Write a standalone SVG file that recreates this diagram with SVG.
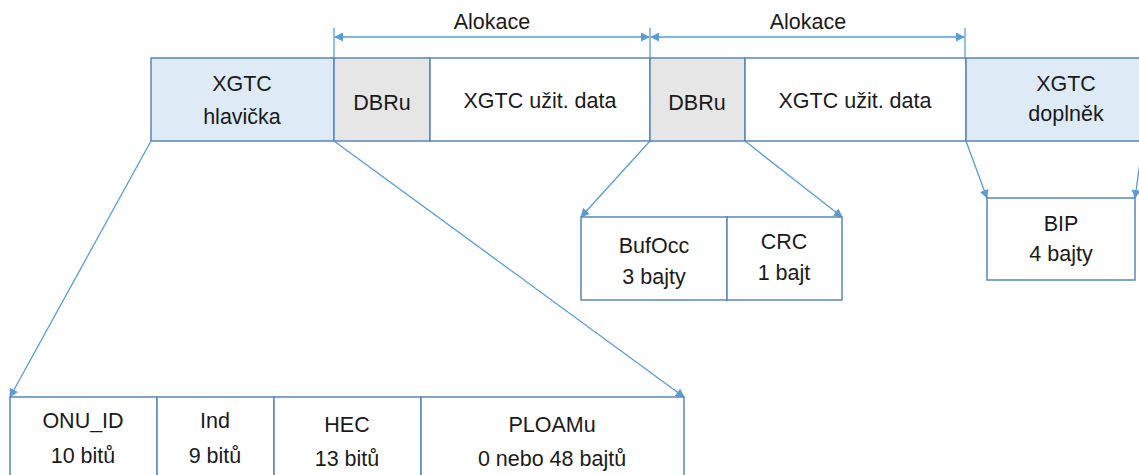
<svg xmlns="http://www.w3.org/2000/svg" width="1139" height="475" viewBox="0 0 1139 475">
<style>
.t{font-family:"Liberation Sans",Arial,sans-serif;font-size:21.5px;fill:#1a1a1a;text-anchor:middle}
.b{stroke:#5a87b8;stroke-width:1.5}
.w{fill:#ffffff}
.g{fill:#e7e6e6}
.l{fill:#deeaf6}
.c{stroke:#5b9bd5;stroke-width:1.3;fill:none}
</style>
<defs>
<marker id="ah" viewBox="0 0 10 10" refX="9" refY="5" markerWidth="9" markerHeight="9" markerUnits="userSpaceOnUse" orient="auto-start-reverse">
<path d="M0,0 L10,5 L0,10 z" fill="#5b9bd5"/>
</marker>
</defs>
<rect width="1139" height="475" fill="#ffffff"/>
<g id="connectors">
<line class="c" x1="334" y1="28" x2="334" y2="58"/>
<line class="c" x1="650" y1="28" x2="650" y2="58"/>
<line class="c" x1="965" y1="28" x2="965" y2="58"/>
<line class="c" x1="335" y1="37" x2="649" y2="37" marker-start="url(#ah)" marker-end="url(#ah)"/>
<line class="c" x1="651" y1="37" x2="964" y2="37" marker-start="url(#ah)" marker-end="url(#ah)"/>
<line class="c" x1="151" y1="141" x2="10" y2="397" marker-end="url(#ah)"/>
<line class="c" x1="334" y1="141" x2="684" y2="397" marker-end="url(#ah)"/>
<line class="c" x1="650" y1="141" x2="581" y2="217" marker-end="url(#ah)"/>
<line class="c" x1="745" y1="141" x2="842" y2="217" marker-end="url(#ah)"/>
<line class="c" x1="966" y1="141" x2="987" y2="198" marker-end="url(#ah)"/>
<line class="c" x1="1143" y1="141" x2="1135" y2="198" marker-end="url(#ah)"/>
</g>
<g id="labels-alokace">
<text class="t" x="492" y="29">Alokace</text>
<text class="t" x="808" y="29">Alokace</text>
</g>
<g id="hlavicka"><rect class="b l" x="151" y="58" width="183" height="83"/><text class="t" x="242" y="91">XGTC</text><text class="t" x="242" y="124">hlavička</text></g>
<g id="dbru1"><rect class="b g" x="334" y="58" width="96" height="83"/><text class="t" x="382" y="110">DBRu</text></g>
<g id="data1"><rect class="b w" x="430" y="58" width="220" height="83"/><text class="t" x="540" y="108">XGTC užit. data</text></g>
<g id="dbru2"><rect class="b g" x="650" y="58" width="95" height="83"/><text class="t" x="697" y="110">DBRu</text></g>
<g id="data2"><rect class="b w" x="745" y="58" width="221" height="83"/><text class="t" x="855" y="108">XGTC užit. data</text></g>
<g id="doplnek"><rect class="b l" x="966" y="58" width="180" height="83"/><text class="t" x="1066" y="91">XGTC</text><text class="t" x="1066" y="121">doplněk</text></g>
<g id="bufocc"><rect class="b w" x="581" y="217" width="146" height="83"/><text class="t" x="654" y="253">BufOcc</text><text class="t" x="654" y="284">3 bajty</text></g>
<g id="crc"><rect class="b w" x="727" y="217" width="115" height="83"/><text class="t" x="784" y="249">CRC</text><text class="t" x="784" y="280">1 bajt</text></g>
<g id="bip"><rect class="b w" x="987" y="198" width="148" height="82"/><text class="t" x="1061" y="231">BIP</text><text class="t" x="1061" y="261">4 bajty</text></g>
<g id="onuid"><rect class="b w" x="10" y="397" width="147" height="90"/><text class="t" x="83" y="428">ONU_ID</text><text class="t" x="83" y="463">10 bitů</text></g>
<g id="ind"><rect class="b w" x="157" y="397" width="117" height="90"/><text class="t" x="215" y="428">Ind</text><text class="t" x="215" y="463">9 bitů</text></g>
<g id="hec"><rect class="b w" x="274" y="397" width="147" height="90"/><text class="t" x="347" y="432">HEC</text><text class="t" x="347" y="466">13 bitů</text></g>
<g id="ploamu"><rect class="b w" x="421" y="397" width="263" height="90"/><text class="t" x="552" y="432">PLOAMu</text><text class="t" x="552" y="466">0 nebo 48 bajtů</text></g>
</svg>
